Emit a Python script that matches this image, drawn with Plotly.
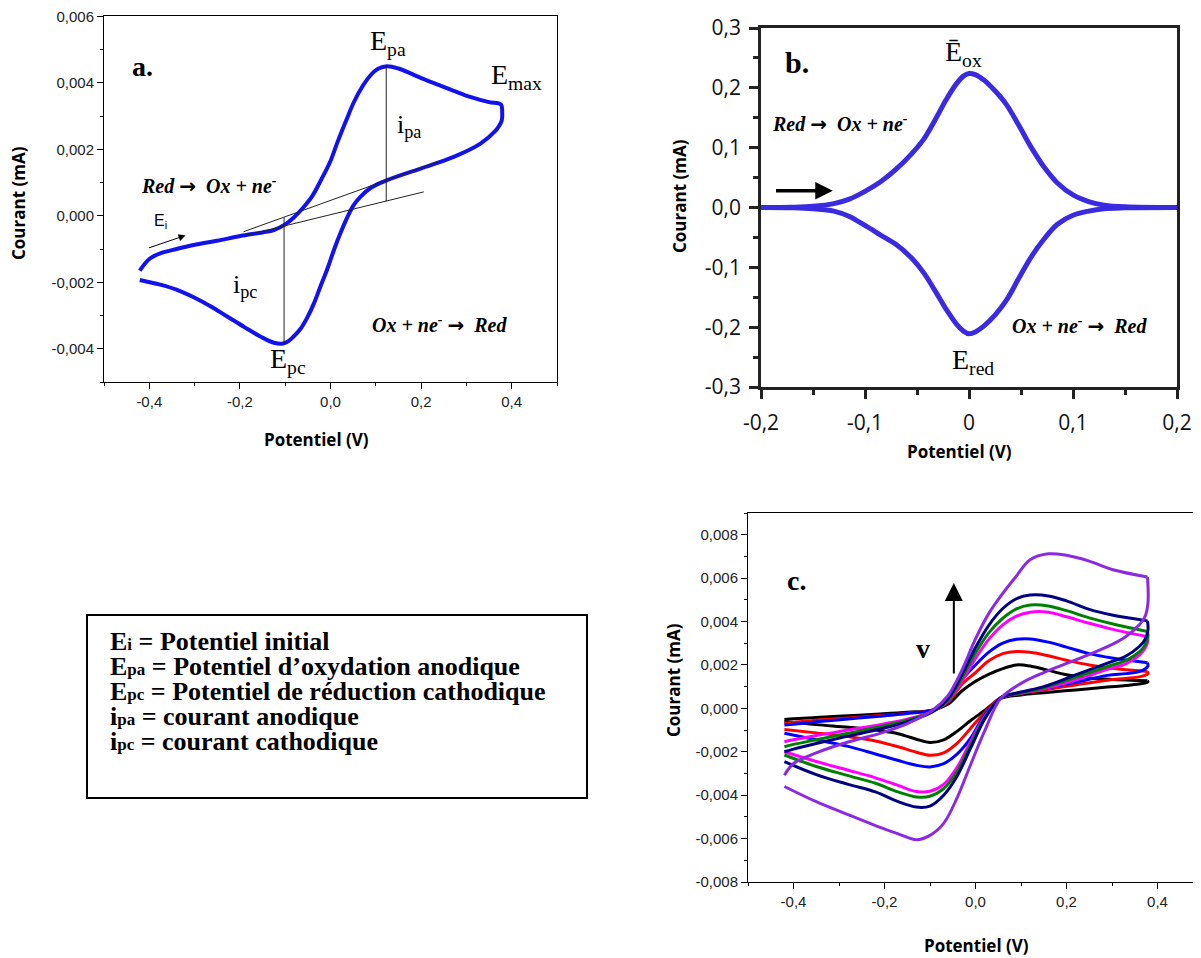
import plotly.graph_objects as go

# ---------------- Panel a data (single CV) ----------------
a_fwd_x = [-0.421, -0.40, -0.376, -0.34, -0.302, -0.25, -0.199, -0.15, -0.125, -0.10, -0.081, -0.06,
           -0.04, -0.02, 0.0, 0.015, 0.035, 0.051, 0.07, 0.088, 0.105, 0.125, 0.15, 0.199, 0.24,
           0.272, 0.31, 0.35, 0.376]
a_fwd_y = [-1.65e-3, -1.30e-3, -1.13e-3, -1.00e-3, -0.88e-3, -0.75e-3, -0.61e-3, -0.50e-3, -0.43e-3,
           -0.26e-3, -0.05e-3, 0.25e-3, 0.60e-3, 1.10e-3, 1.65e-3, 2.20e-3, 2.88e-3, 3.40e-3, 3.88e-3,
           4.22e-3, 4.42e-3, 4.50e-3, 4.43e-3, 4.15e-3, 3.93e-3, 3.76e-3, 3.57e-3, 3.42e-3, 3.35e-3]
a_rev_x = [0.379, 0.378, 0.372, 0.365, 0.331, 0.272, 0.199, 0.125, 0.09, 0.066, 0.05, 0.037, 0.022,
           0.007, -0.007, -0.022, -0.037, -0.052, -0.066, -0.082, -0.096, -0.107, -0.125, -0.155,
           -0.19, -0.228, -0.265, -0.302, -0.34, -0.376, -0.421]
a_rev_y = [3.10e-3, 2.87e-3, 2.70e-3, 2.57e-3, 2.17e-3, 1.77e-3, 1.42e-3, 1.07e-3, 0.85e-3, 0.57e-3,
           0.30e-3, -0.05e-3, -0.52e-3, -1.05e-3, -1.60e-3, -2.12e-3, -2.65e-3, -3.08e-3, -3.40e-3,
           -3.64e-3, -3.80e-3, -3.85e-3, -3.82e-3, -3.63e-3, -3.35e-3, -3.03e-3, -2.72e-3, -2.45e-3,
           -2.22e-3, -2.07e-3, -1.93e-3]
# construction lines (tangents and peak heights)
a_tanA_x = [-0.192, 0.236]
a_tanA_y = [-0.48e-3, 1.62e-3]
a_tanB_x = [-0.19, 0.206]
a_tanB_y = [-0.60e-3, 0.72e-3]
a_ipa_x = [0.123, 0.123]
a_ipa_y = [0.44e-3, 4.50e-3]
a_ipc_x = [-0.1025, -0.1025]
a_ipc_y = [-0.05e-3, -3.85e-3]

# ---------------- Panel b data ----------------
b_x = [-0.2, -0.17, -0.15, -0.13, -0.115, -0.10, -0.085, -0.07, -0.055, -0.044, -0.033, -0.022,
       -0.012, -0.005, 0.0, 0.006, 0.015, 0.025, 0.036, 0.048, 0.06, 0.072, 0.085, 0.1, 0.115,
       0.13, 0.15, 0.2]
b_ox = [0.0, 0.0005, 0.002, 0.0065, 0.014, 0.027, 0.043, 0.064, 0.09, 0.113, 0.145, 0.18, 0.207,
        0.220, 0.224, 0.222, 0.212, 0.195, 0.172, 0.137, 0.10, 0.068, 0.041, 0.021, 0.010, 0.004,
        0.0012, 0.0]
b_red = [0.0, -0.0005, -0.002, -0.006, -0.015, -0.030, -0.046, -0.062, -0.085, -0.108, -0.138,
         -0.170, -0.195, -0.207, -0.211, -0.208, -0.197, -0.180, -0.155, -0.118, -0.082, -0.053,
         -0.028, -0.013, -0.006, -0.002, -0.0006, 0.0]

# ---------------- Panel c data (7 scan rates) ----------------
c_fwd_x = [-0.42, -0.40, -0.35, -0.28, -0.21, -0.15, -0.095, -0.06, -0.03, 0.0, 0.03, 0.06, 0.09,
           0.12, 0.16, 0.20, 0.25, 0.30, 0.378]
c_rev_x = [0.379, 0.372, 0.36, 0.33, 0.29, 0.22, 0.15, 0.10, 0.055, 0.02, -0.01, -0.04, -0.07,
           -0.10, -0.13, -0.17, -0.22, -0.28, -0.35, -0.42]

c_black_fwd = [-0.51e-3, -0.48e-3, -0.42e-3, -0.34e-3, -0.26e-3, -0.18e-3, -0.08e-3, 0.20e-3, 0.80e-3,
               1.25e-3, 1.58e-3, 1.83e-3, 2.00e-3, 1.95e-3, 1.75e-3, 1.55e-3, 1.40e-3, 1.33e-3, 1.27e-3]
c_black_rev = [1.22e-3, 1.17e-3, 1.12e-3, 1.05e-3, 0.98e-3, 0.85e-3, 0.72e-3, 0.62e-3, 0.45e-3,
               -0.10e-3, -0.55e-3, -1.05e-3, -1.45e-3, -1.57e-3, -1.42e-3, -1.17e-3, -1.00e-3,
               -0.87e-3, -0.75e-3, -0.60e-3]
c_red_fwd = [-0.69e-3, -0.65e-3, -0.55e-3, -0.44e-3, -0.33e-3, -0.22e-3, -0.08e-3, 0.30e-3, 1.10e-3,
             1.65e-3, 2.20e-3, 2.52e-3, 2.62e-3, 2.58e-3, 2.42e-3, 2.22e-3, 2.00e-3, 1.85e-3, 1.70e-3]
c_red_rev = [1.60e-3, 1.52e-3, 1.45e-3, 1.38e-3, 1.30e-3, 1.08e-3, 0.85e-3, 0.70e-3, 0.48e-3,
             -0.20e-3, -0.90e-3, -1.60e-3, -2.05e-3, -2.16e-3, -2.02e-3, -1.77e-3, -1.50e-3,
             -1.30e-3, -1.13e-3, -0.97e-3]
c_blue_fwd = [-0.77e-3, -0.73e-3, -0.62e-3, -0.49e-3, -0.36e-3, -0.24e-3, -0.08e-3, 0.35e-3, 1.30e-3,
              2.00e-3, 2.60e-3, 3.00e-3, 3.18e-3, 3.20e-3, 3.05e-3, 2.82e-3, 2.52e-3, 2.32e-3, 2.10e-3]
c_blue_rev = [1.95e-3, 1.80e-3, 1.70e-3, 1.60e-3, 1.52e-3, 1.20e-3, 0.90e-3, 0.72e-3, 0.48e-3,
              -0.30e-3, -1.35e-3, -2.10e-3, -2.55e-3, -2.70e-3, -2.62e-3, -2.40e-3, -2.10e-3,
              -1.75e-3, -1.45e-3, -1.15e-3]
c_magenta_fwd = [-1.54e-3, -1.45e-3, -1.25e-3, -1.00e-3, -0.75e-3, -0.50e-3, -0.15e-3, 0.35e-3,
                 1.25e-3, 2.30e-3, 3.20e-3, 3.85e-3, 4.25e-3, 4.43e-3, 4.43e-3, 4.22e-3, 3.92e-3,
                 3.65e-3, 3.30e-3]
c_magenta_rev = [3.10e-3, 2.75e-3, 2.45e-3, 2.05e-3, 1.80e-3, 1.30e-3, 0.90e-3, 0.70e-3, 0.48e-3,
                 -0.40e-3, -1.50e-3, -2.70e-3, -3.50e-3, -3.82e-3, -3.83e-3, -3.55e-3, -3.20e-3,
                 -2.85e-3, -2.45e-3, -2.00e-3]
c_green_fwd = [-1.77e-3, -1.66e-3, -1.45e-3, -1.15e-3, -0.85e-3, -0.55e-3, -0.15e-3, 0.40e-3, 1.40e-3,
               2.55e-3, 3.50e-3, 4.15e-3, 4.58e-3, 4.76e-3, 4.72e-3, 4.50e-3, 4.17e-3, 3.90e-3, 3.54e-3]
c_green_rev = [3.30e-3, 2.90e-3, 2.60e-3, 2.20e-3, 1.93e-3, 1.43e-3, 0.95e-3, 0.72e-3, 0.48e-3,
               -0.45e-3, -1.65e-3, -2.90e-3, -3.70e-3, -4.05e-3, -4.08e-3, -3.85e-3, -3.45e-3,
               -3.10e-3, -2.68e-3, -2.15e-3]
c_navy_fwd = [-2.00e-3, -1.88e-3, -1.62e-3, -1.28e-3, -0.95e-3, -0.62e-3, -0.17e-3, 0.45e-3, 1.55e-3,
              2.80e-3, 3.85e-3, 4.60e-3, 5.05e-3, 5.22e-3, 5.18e-3, 4.95e-3, 4.56e-3, 4.30e-3, 4.03e-3]
c_navy_rev = [3.60e-3, 3.15e-3, 2.85e-3, 2.40e-3, 2.08e-3, 1.54e-3, 1.00e-3, 0.75e-3, 0.48e-3,
              -0.50e-3, -1.80e-3, -3.10e-3, -4.00e-3, -4.50e-3, -4.55e-3, -4.30e-3, -3.85e-3,
              -3.50e-3, -3.05e-3, -2.45e-3]
c_purple_fwd = [-3.08e-3, -2.54e-3, -2.05e-3, -1.55e-3, -1.15e-3, -0.70e-3, -0.10e-3, 0.60e-3, 1.75e-3,
                3.20e-3, 4.40e-3, 5.30e-3, 6.10e-3, 6.85e-3, 7.12e-3, 7.05e-3, 6.78e-3, 6.40e-3, 6.05e-3]
c_purple_rev = [4.85e-3, 4.20e-3, 3.85e-3, 3.30e-3, 2.84e-3, 2.23e-3, 1.65e-3, 1.15e-3, 0.45e-3,
                -1.05e-3, -2.55e-3, -4.10e-3, -5.30e-3, -5.85e-3, -6.05e-3, -5.78e-3, -5.40e-3,
                -4.90e-3, -4.30e-3, -3.60e-3]

c_names = ["black", "red", "blue", "magenta", "green", "navy", "purple"]
c_colors = ["#000000", "#ff0000", "#0000ff", "#ff00ff", "#008000", "#000080", "#8a2be2"]
c_fwd = [c_black_fwd, c_red_fwd, c_blue_fwd, c_magenta_fwd, c_green_fwd, c_navy_fwd, c_purple_fwd]
c_rev = [c_black_rev, c_red_rev, c_blue_rev, c_magenta_rev, c_green_rev, c_navy_rev, c_purple_rev]

# ---------------- tick labels ----------------
a_xtick_vals = [-0.4, -0.2, 0.0, 0.2, 0.4]
a_xtick_text = ["-0,4", "-0,2", "0,0", "0,2", "0,4"]
a_ytick_vals = [-0.004, -0.002, 0.0, 0.002, 0.004, 0.006]
a_ytick_text = ["-0,004", "-0,002", "0,000", "0,002", "0,004", "0,006"]
b_xtick_vals = [-0.2, -0.1, 0.0, 0.1, 0.2]
b_xtick_text = ["-0,2", "-0,1", "0", "0,1", "0,2"]
b_ytick_vals = [-0.3, -0.2, -0.1, 0.0, 0.1, 0.2, 0.3]
b_ytick_text = ["-0,3", "-0,2", "-0,1", "0,0", "0,1", "0,2", "0,3"]
c_xtick_vals = [-0.4, -0.2, 0.0, 0.2, 0.4]
c_xtick_text = ["-0,4", "-0,2", "0,0", "0,2", "0,4"]
c_ytick_vals = [-0.008, -0.006, -0.004, -0.002, 0.0, 0.002, 0.004, 0.006, 0.008]
c_ytick_text = ["-0,008", "-0,006", "-0,004", "-0,002", "0,000", "0,002", "0,004", "0,006", "0,008"]

box_syms = ["E", "E", "E", "i", "i"]
box_subs = ["i", "pa", "pc", "pa", "pc"]
box_defs = ["Potentiel initial", "Potentiel d’oxydation anodique",
            "Potentiel de réduction cathodique", "courant anodique", "courant cathodique"]

# ---------------- figure ----------------
# The page body has an 8 px margin: the figure is made 8 px smaller and all
# reference pixel positions are converted with that offset.
OFF = 8
W, H = 1201 - OFF, 958 - OFF
def PX(v):
    return (v - OFF) / W
def PY(v):
    return 1 - (v - OFF) / H

SERIF = "Liberation Serif, Times New Roman, serif"
SANS = "Liberation Sans, Arial, sans-serif"
TITLE = "Open Sans, sans-serif"

fig = go.Figure()

# panel a
fig.add_trace(go.Scatter(x=a_fwd_x + a_rev_x, y=a_fwd_y + a_rev_y, mode="lines",
                         line=dict(color="#1212ee", width=4, shape="spline", smoothing=1.0),
                         xaxis="x", yaxis="y", hoverinfo="skip"))
for lx, ly in [(a_tanA_x, a_tanA_y), (a_tanB_x, a_tanB_y), (a_ipa_x, a_ipa_y), (a_ipc_x, a_ipc_y)]:
    fig.add_trace(go.Scatter(x=lx, y=ly, mode="lines", line=dict(color="#222222", width=1),
                             xaxis="x", yaxis="y", hoverinfo="skip"))

# panel b
for yy in (b_ox, b_red):
    fig.add_trace(go.Scatter(x=b_x, y=yy, mode="lines",
                             line=dict(color="#3a2ae0", width=5, shape="spline", smoothing=1.0),
                             xaxis="x2", yaxis="y2", hoverinfo="skip"))

# panel c : forward scan and reverse scan of each curve (reverse starts at the switching point)
for name, col, fy, ry in zip(c_names, c_colors, c_fwd, c_rev):
    fig.add_trace(go.Scatter(x=c_fwd_x, y=fy, mode="lines", name=name,
                             line=dict(color=col, width=3, shape="spline", smoothing=1.0),
                             xaxis="x3", yaxis="y3", hoverinfo="skip"))
    fig.add_trace(go.Scatter(x=c_fwd_x[-1:] + c_rev_x, y=fy[-1:] + ry, mode="lines", name=name,
                             line=dict(color=col, width=3, shape="spline", smoothing=1.0),
                             xaxis="x3", yaxis="y3", hoverinfo="skip"))


def ax_common(font_size, family, color="#222222", linew=1, linecol="black", ticklen=6, tickw=1,
              minor_dtick=None, minor_len=3):
    d = dict(showgrid=False, zeroline=False, showline=True, linecolor=linecol, linewidth=linew,
             ticks="outside", ticklen=ticklen, tickwidth=tickw, tickcolor=linecol, automargin=False,
             ticklabeloverflow="allow",
             tickfont=dict(family=family, size=font_size, color=color), tickmode="array")
    if minor_dtick is not None:
        d["minor"] = dict(tickmode="linear", tick0=0, dtick=minor_dtick, ticks="outside",
                          ticklen=minor_len, tickwidth=tickw, tickcolor=linecol)
    return d

layout = dict(
    width=W, height=H, margin=dict(l=0, r=0, t=0, b=0, autoexpand=False),
    paper_bgcolor="white", plot_bgcolor="white", showlegend=False,
    xaxis=dict(domain=[PX(104), PX(557)], range=[-0.5, 0.5], anchor="y", mirror=True,
               tickvals=a_xtick_vals, ticktext=a_xtick_text,
               **ax_common(15, SANS, minor_dtick=0.1)),
    yaxis=dict(domain=[PY(382), PY(16)], range=[-0.005, 0.00601], anchor="x", mirror=True,
               tickvals=a_ytick_vals, ticktext=a_ytick_text,
               **ax_common(15, SANS, minor_dtick=0.001)),
    xaxis2=dict(domain=[PX(761), PX(1177)], range=[-0.2, 0.2], anchor="y2", mirror=True,
                tickvals=b_xtick_vals, ticktext=b_xtick_text, ticklabelstandoff=6,
                **ax_common(21, TITLE, color="#111111", linew=2.5, linecol="#222222", ticklen=9,
                            tickw=2.5, minor_dtick=0.05, minor_len=5)),
    yaxis2=dict(domain=[PY(387), PY(28)], range=[-0.3, 0.3], anchor="x2", mirror=True,
                tickvals=b_ytick_vals, ticktext=b_ytick_text, ticklabelstandoff=4,
                **ax_common(21, TITLE, color="#111111", linew=2.5, linecol="#222222", ticklen=9,
                            tickw=2.5, minor_dtick=0.05, minor_len=5)),
    xaxis3=dict(domain=[PX(748), 1.0], range=[-0.5, 0.4956], anchor="y3", mirror=True,
                tickvals=c_xtick_vals, ticktext=c_xtick_text,
                **ax_common(15, SANS, minor_dtick=0.1)),
    yaxis3=dict(domain=[PY(882), PY(513)], range=[-0.008, 0.009], anchor="x3", mirror=False,
                tickvals=c_ytick_vals, ticktext=c_ytick_text,
                **ax_common(15, SANS, minor_dtick=0.001)),
)
fig.update_layout(**layout)

ann = []
def txt(text, x, y, xref, yref, size, family=SERIF, xanchor="center", yanchor="middle", angle=0,
        color="black"):
    ann.append(dict(text=text, x=x, y=y, xref=xref, yref=yref, showarrow=False,
                    font=dict(family=family, size=size, color=color),
                    xanchor=xanchor, yanchor=yanchor, textangle=angle))

def arrow(x, y, ax, ay, xref, yref, width, size, head=2):
    ann.append(dict(text="", x=x, y=y, ax=ax, ay=ay, xref=xref, yref=yref, axref=xref, ayref=yref,
                    showarrow=True, arrowhead=head, arrowwidth=width, arrowsize=size,
                    arrowcolor="black"))

# axis titles
txt("<b>Courant (mA)</b>", PX(19), PY(203), "paper", "paper", 17, TITLE, angle=-90)
txt("<b>Potentiel (V)</b>", PX(316), PY(440), "paper", "paper", 17, TITLE)
txt("<b>Courant (mA)</b>", PX(680), PY(196), "paper", "paper", 17, TITLE, angle=-90)
txt("<b>Potentiel (V)</b>", PX(959), PY(451), "paper", "paper", 17, TITLE)
txt("<b>Courant (mA)</b>", PX(673), PY(680), "paper", "paper", 17, TITLE, angle=-90)
txt("<b>Potentiel (V)</b>", PX(976), PY(945), "paper", "paper", 17, TITLE)

NB = "\u00a0"
ARR = "<span style='font-family:DejaVu Sans'>→</span>"
red_ox = "<b><i>Red" + NB + ARR + NB + NB + "Ox + ne<sup>-</sup></i></b>"
ox_red = "<b><i>Ox + ne<sup>-</sup>" + NB + ARR + NB + NB + "Red</i></b>"

# panel a labels
txt("<b>a.</b>", -0.416, 0.00449, "x", "y", 28)
txt(red_ox, -0.269, 0.00092, "x", "y", 20)
txt(ox_red, 0.241, -0.00328, "x", "y", 20)
txt("E<sub>pa</sub>", 0.128, 0.00521, "x", "y", 28)
txt("E<sub>max</sub>", 0.411, 0.00419, "x", "y", 28)
txt("i<sub>pa</sub>", 0.173, 0.00269, "x", "y", 26)
txt("i<sub>pc</sub>", -0.188, -0.00211, "x", "y", 26)
txt("E<sub>pc</sub>", -0.094, -0.00436, "x", "y", 28)
txt("E<sub>i</sub>", -0.376, -0.00016, "x", "y", 16, SANS)
arrow(-0.32, -0.00059, -0.404, -0.00098, "x", "y", 1, 1.4)

# panel b labels
txt("<b>b.</b>", -0.165, 0.243, "x2", "y2", 30)
txt(red_ox, -0.124, 0.141, "x2", "y2", 20)
txt(ox_red, 0.106, -0.197, "x2", "y2", 20)
txt("Ē<sub>ox</sub>", -0.005, 0.258, "x2", "y2", 28)
txt("E<sub>red</sub>", 0.0035, -0.257, "x2", "y2", 28)
arrow(-0.131, 0.028, -0.187, 0.028, "x2", "y2", 3.5, 1.0)

# panel c labels
txt("<b>c.</b>", -0.393, 0.00587, "x3", "y3", 28)
txt("<b>v</b>", -0.115, 0.00274, "x3", "y3", 28)
arrow(-0.0476, 0.00577, -0.0476, 0.00154, "x3", "y3", 2, 1.8)

# legend box
for i, (s, sub, d) in enumerate(zip(box_syms, box_subs, box_defs)):
    line = "<b>" + s + "<span style='font-size:17px'>" + sub + "</span> = " + d + "</b>"
    txt(line, PX(108), PY(641 + 25 * i), "paper", "paper", 26, SERIF, xanchor="left")

fig.update_layout(annotations=ann)
fig.add_shape(type="rect", xref="paper", yref="paper", x0=PX(87), x1=PX(587), y0=PY(798), y1=PY(615),
              line=dict(color="black", width=2))

fig.write_html("out.html")
